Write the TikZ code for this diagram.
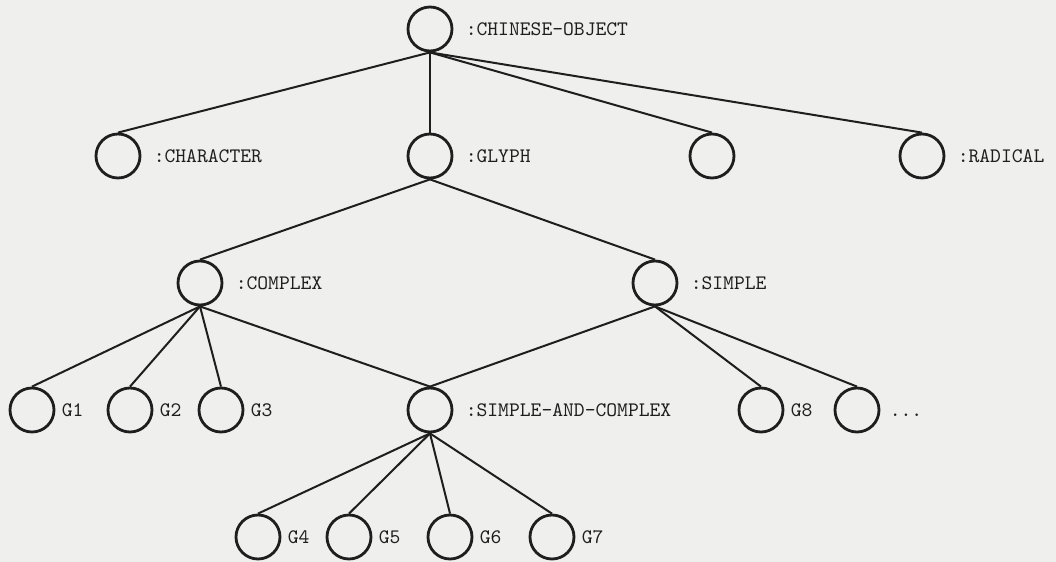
\documentclass[tikz,border=0pt]{standalone}
\usetikzlibrary{positioning}
\definecolor{paper}{HTML}{EFEFED}
\definecolor{ink}{HTML}{1E1E1E}

\begin{document}
\begin{tikzpicture}[node distance=63.5pt]
\tikzstyle{obj} = [circle, draw=ink, line width=1.4pt, minimum size=22pt, inner sep=0pt]
\tikzstyle{tag} = [inner sep=0pt, text height=6pt, text depth=0pt, text=ink, font=\fontsize{10.3}{11}\selectfont\ttfamily]
\tikzstyle{link} = [-, ink, line width=1pt]

\fill[paper] (-215pt,14.5pt) rectangle (313pt,-266.5pt);
\useasboundingbox (-215pt,14.5pt) rectangle (313pt,-266.5pt);

\node (chobj) [obj] {};
\node (character) [obj, below of=chobj, xshift=-156pt] {};
\node (glyph) [obj, below of=chobj] {};
\node (other) [obj, below of=chobj, xshift=141pt] {};
\node (radical) [obj, below of=chobj, xshift=246pt] {};

\node (complex) [obj, below of=glyph, xshift=-115pt] {};
\node (simple) [obj, below of=glyph, xshift=112.5pt] {};

\node (g1) [obj, below of=complex, xshift=-84pt] {};
\node (g2) [obj, below of=complex, xshift=-35pt] {};
\node (g3) [obj, below of=complex, xshift=10.5pt] {};
\node (simcom) [obj, below of=complex, xshift=115pt] {};
\node (g8) [obj, below of=simple, xshift=53pt] {};
\node (more) [obj, below of=simple, xshift=101pt] {};

\node (g4) [obj, below of=simcom, xshift=-86pt] {};
\node (g5) [obj, below of=simcom, xshift=-40.5pt] {};
\node (g6) [obj, below of=simcom, xshift=10pt] {};
\node (g7) [obj, below of=simcom, xshift=61pt] {};

\node (lchobj) [tag, right=6pt of chobj] {:CHINESE-OBJECT};
\node (lcharacter) [tag, right=6pt of character] {:CHARACTER};
\node (lglyph) [tag, right=6pt of glyph] {:GLYPH};
\node (lradical) [tag, right=6pt of radical] {:RADICAL};
\node (lcomplex) [tag, right=6pt of complex] {:COMPLEX};
\node (lsimple) [tag, right=6pt of simple] {:SIMPLE};
\node (lsimcom) [tag, right=6pt of simcom] {:SIMPLE-AND-COMPLEX};
\node (lmore) [tag, right=4.5pt of more] {...};
\node (lg1) [tag, right=3pt of g1] {G1};
\node (lg2) [tag, right=3pt of g2] {G2};
\node (lg3) [tag, right=3pt of g3] {G3};
\node (lg8) [tag, right=3pt of g8] {G8};
\node (lg4) [tag, right=3pt of g4] {G4};
\node (lg5) [tag, right=3pt of g5] {G5};
\node (lg6) [tag, right=3pt of g6] {G6};
\node (lg7) [tag, right=3pt of g7] {G7};

\foreach \kid in {character, glyph, other, radical}
  \draw[link] (chobj.south) -- (\kid.north);
\foreach \kid in {complex, simple}
  \draw[link] (glyph.south) -- (\kid.north);
\foreach \kid in {g1, g2, g3, simcom}
  \draw[link] (complex.south) -- (\kid.north);
\foreach \kid in {simcom, g8, more}
  \draw[link] (simple.south) -- (\kid.north);
\foreach \kid in {g4, g5, g6, g7}
  \draw[link] (simcom.south) -- (\kid.north);

\end{tikzpicture}
\end{document}
